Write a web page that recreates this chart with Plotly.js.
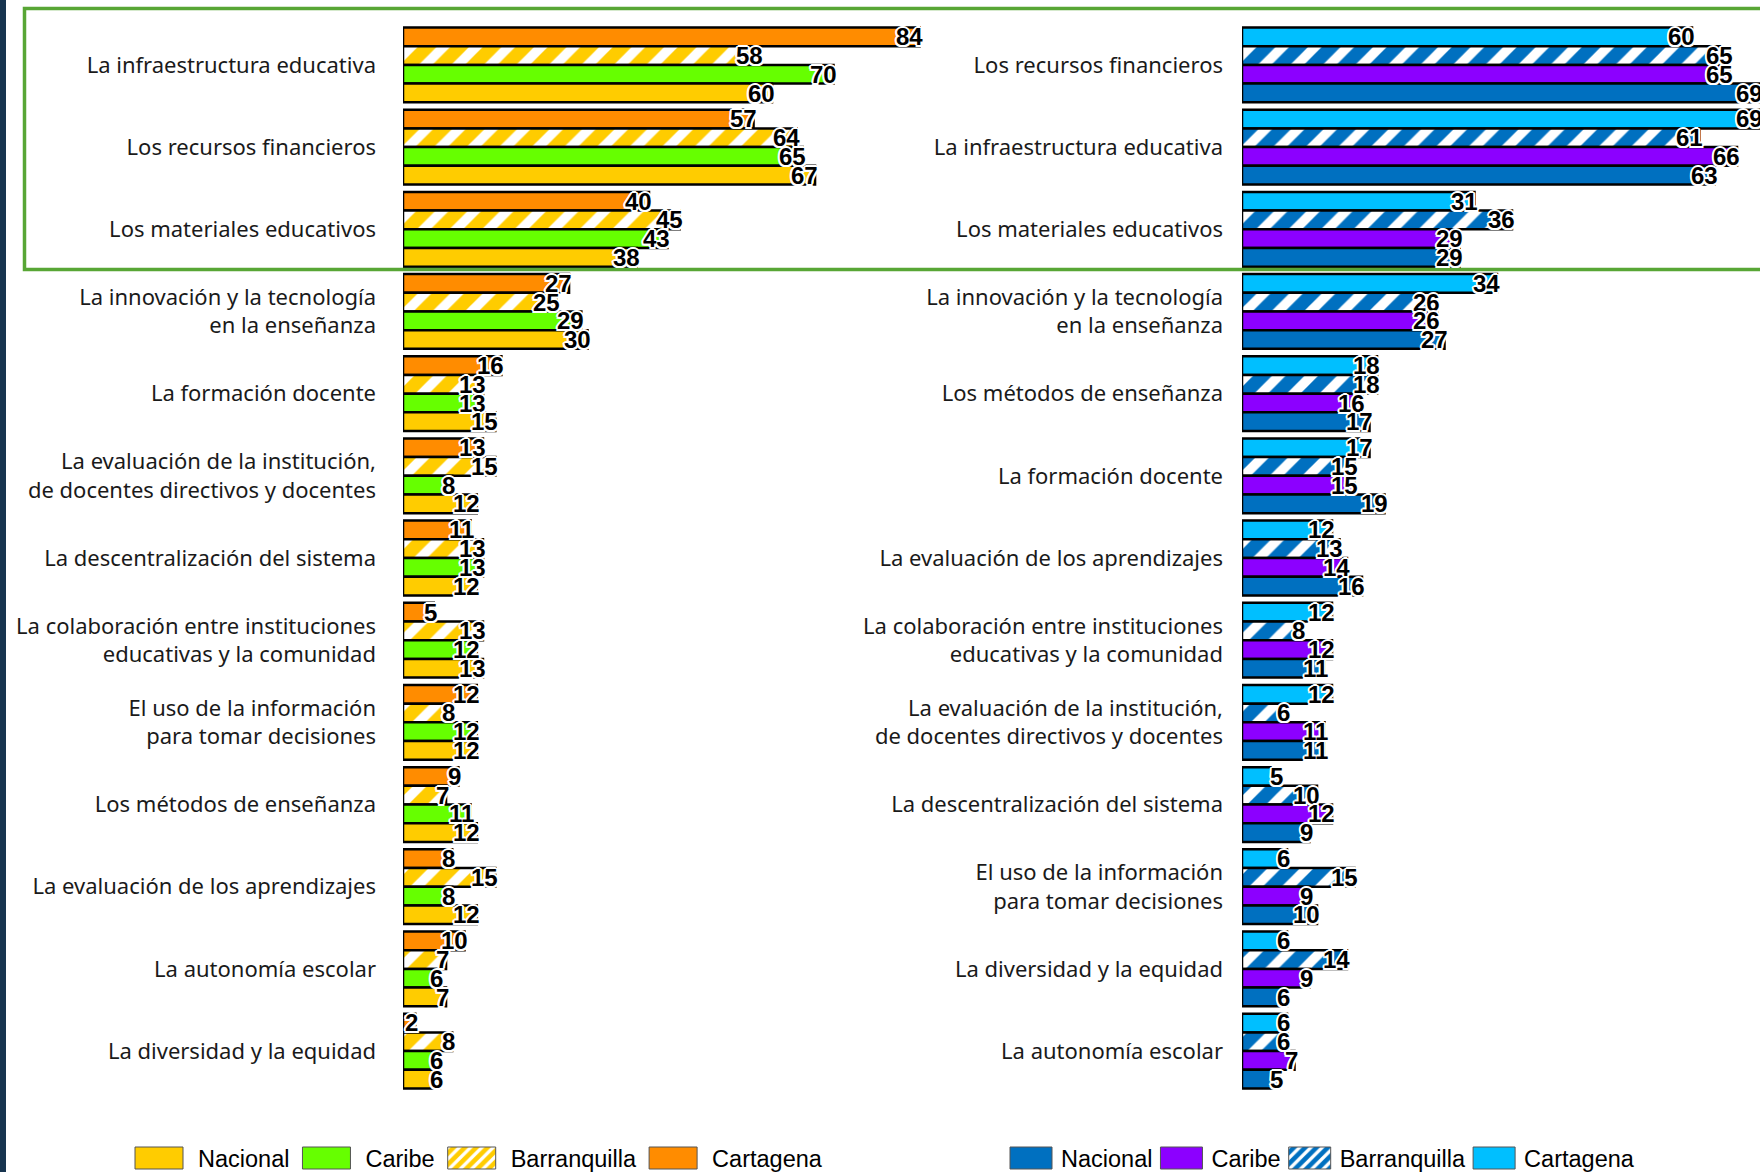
<!DOCTYPE html>
<html>
<head>
<meta charset="utf-8">
<script src="https://cdn.plot.ly/plotly-3.0.1.min.js"></script>
<style>
  html, body { margin: 0; padding: 0; background: #ffffff; }
  #chart { width: 1760px; height: 1172px; }
</style>
</head>
<body>
<div id="chart"></div>
<script>
// Categories, top to bottom, for each panel
const catsLeft = [
  'La infraestructura educativa',
  'Los recursos financieros',
  'Los materiales educativos',
  'La innovación y la tecnología<br>en la enseñanza',
  'La formación docente',
  'La evaluación de la institución,<br>de docentes directivos y docentes',
  'La descentralización del sistema',
  'La colaboración entre instituciones<br>educativas y la comunidad',
  'El uso de la información<br>para tomar decisiones',
  'Los métodos de enseñanza',
  'La evaluación de los aprendizajes',
  'La autonomía escolar',
  'La diversidad y la equidad'
];
const cartagenaLeft    = [84, 57, 40, 27, 16, 13, 11, 5, 12, 9, 8, 10, 2];
const barranquillaLeft = [58, 64, 45, 25, 13, 15, 13, 13, 8, 7, 15, 7, 8];
const caribeLeft       = [70, 65, 43, 29, 13, 8, 13, 12, 12, 11, 8, 6, 6];
const nacionalLeft     = [60, 67, 38, 30, 15, 12, 12, 13, 12, 12, 12, 7, 6];

const catsRight = [
  'Los recursos financieros',
  'La infraestructura educativa',
  'Los materiales educativos',
  'La innovación y la tecnología<br>en la enseñanza',
  'Los métodos de enseñanza',
  'La formación docente',
  'La evaluación de los aprendizajes',
  'La colaboración entre instituciones<br>educativas y la comunidad',
  'La evaluación de la institución,<br>de docentes directivos y docentes',
  'La descentralización del sistema',
  'El uso de la información<br>para tomar decisiones',
  'La diversidad y la equidad',
  'La autonomía escolar'
];
const cartagenaRight    = [60, 69, 31, 34, 18, 17, 12, 12, 12, 5, 6, 6, 6];
const barranquillaRight = [65, 61, 36, 26, 18, 15, 13, 8, 6, 10, 15, 14, 6];
const caribeRight       = [65, 66, 29, 26, 16, 15, 14, 12, 11, 12, 9, 9, 7];
const nacionalRight     = [69, 63, 29, 27, 17, 19, 16, 11, 11, 9, 10, 6, 5];

const W = 1760, H = 1172;
const plotTop = 22.3, plotBottom = 1093.7;
const bargap = 0.09;

const labelFont = {
  family: 'Liberation Sans, Arial, sans-serif',
  size: 24,
  weight: 'bold',
  color: '#000000',
  shadow: '2px 0 0 #fff, -2px 0 0 #fff, 0 2px 0 #fff, 0 -2px 0 #fff, 1.5px 1.5px 0 #fff, -1.5px -1.5px 0 #fff, 1.5px -1.5px 0 #fff, -1.5px 1.5px 0 #fff'
};

function barTrace(name, values, cats, color, hatched, xa, ya, legend, rank) {
  return {
    type: 'bar',
    orientation: 'h',
    name: name,
    x: values,
    y: cats,
    xaxis: xa,
    yaxis: ya,
    legend: legend,
    legendrank: rank,
    marker: {
      color: color,
      line: { color: '#000000', width: 2.5 },
      pattern: hatched
        ? { shape: '/', fgcolor: '#ffffff', bgcolor: color, size: 23, solidity: 0.42, fillmode: 'replace' }
        : { shape: '' }
    },
    textposition: 'none',
    cliponaxis: false,
    hoverinfo: 'skip'
  };
}

// Trace order sets the top-to-bottom order inside each group (y axis reversed)
const data = [
  barTrace('Cartagena',    cartagenaLeft,    catsLeft, '#FF8C00', false, 'x', 'y', 'legend', 4),
  barTrace('Barranquilla', barranquillaLeft, catsLeft, '#FFCC00', true,  'x', 'y', 'legend', 3),
  barTrace('Caribe',       caribeLeft,       catsLeft, '#66FF00', false, 'x', 'y', 'legend', 2),
  barTrace('Nacional',     nacionalLeft,     catsLeft, '#FFCC00', false, 'x', 'y', 'legend', 1),

  barTrace('Cartagena',    cartagenaRight,    catsRight, '#00BFFF', false, 'x2', 'y2', 'legend2', 4),
  barTrace('Barranquilla', barranquillaRight, catsRight, '#0070C0', true,  'x2', 'y2', 'legend2', 3),
  barTrace('Caribe',       caribeRight,       catsRight, '#8C00FF', false, 'x2', 'y2', 'legend2', 2),
  barTrace('Nacional',     nacionalRight,     catsRight, '#0070C0', false, 'x2', 'y2', 'legend2', 1)
];

// Value labels: right edge just past each bar end, one row per bar in the group
const barPx = (plotBottom - plotTop) / catsLeft.length * (1 - bargap) / 4;
const rowShift = [1.5, 0.5, -0.5, -1.5];
function valueLabels(seriesList, cats, xa, ya) {
  const out = [];
  seriesList.forEach(function (vals, s) {
    vals.forEach(function (v, i) {
      out.push({
        xref: xa, yref: ya, x: v, y: cats[i],
        text: String(v), showarrow: false,
        xanchor: 'right', yanchor: 'middle',
        xshift: 4, yshift: rowShift[s] * barPx,
        borderpad: 0,
        font: labelFont
      });
    });
  });
  return out;
}
const annotations = []
  .concat(valueLabels([cartagenaLeft, barranquillaLeft, caribeLeft, nacionalLeft], catsLeft, 'x', 'y'))
  .concat(valueLabels([cartagenaRight, barranquillaRight, caribeRight, nacionalRight], catsRight, 'x2', 'y2'));

const tickFont = { family: 'Noto Sans, Open Sans, sans-serif', size: 22, color: '#1a1a1a' };
const yDomain = [1 - plotBottom / H, 1 - plotTop / H];

const hiddenX = { showgrid: false, zeroline: false, showline: false, showticklabels: false, ticks: '', fixedrange: true };

const legendBase = {
  orientation: 'h',
  xanchor: 'left',
  yanchor: 'middle',
  y: 1 - 1160 / H,
  bgcolor: 'rgba(0,0,0,0)',
  borderwidth: 0,
  itemwidth: 52,
  traceorder: 'normal',
  font: { family: 'Liberation Sans, Arial, sans-serif', size: 23.5, color: '#000000' },
  itemclick: false,
  itemdoubleclick: false
};

const layout = {
  width: W,
  height: H,
  margin: { l: 0, r: 0, t: 0, b: 0, autoexpand: false },
  paper_bgcolor: '#ffffff',
  plot_bgcolor: '#ffffff',
  barmode: 'group',
  bargap: bargap,
  bargroupgap: 0,
  xaxis: Object.assign({}, hiddenX, {
    domain: [403 / W, 0.6],
    range: [0, (0.6 * W - 403) / 6.15],
    anchor: 'y'
  }),
  yaxis: {
    domain: yDomain,
    type: 'category',
    autorange: 'reversed',
    anchor: 'x',
    showgrid: false, zeroline: false, showline: false, ticks: '',
    ticklabelstandoff: 26,
    tickfont: tickFont,
    fixedrange: true
  },
  xaxis2: Object.assign({}, hiddenX, {
    domain: [1242 / W, 1],
    range: [0, 518 / 7.5],
    anchor: 'y2'
  }),
  yaxis2: {
    domain: yDomain,
    type: 'category',
    autorange: 'reversed',
    anchor: 'x2',
    showgrid: false, zeroline: false, showline: false, ticks: '',
    ticklabelstandoff: 18,
    tickfont: tickFont,
    fixedrange: true
  },
  legend: Object.assign({}, legendBase, { x: 128 / W }),
  legend2: Object.assign({}, legendBase, { x: 1002 / W }),
  annotations: annotations,
  shapes: [
    // dark strip on the left edge
    { type: 'rect', xref: 'paper', yref: 'paper', x0: 0, x1: 6 / W, y0: 0, y1: 1,
      fillcolor: '#17344F', line: { width: 0 }, layer: 'above' },
    // frame around the three leading factors
    { type: 'rect', xref: 'paper', yref: 'paper', x0: 24.5 / W, x1: 1.01, y0: 1 - 269.5 / H, y1: 1 - 8.5 / H,
      fillcolor: 'rgba(0,0,0,0)', line: { color: '#58A635', width: 3.5 }, layer: 'above' }
  ],
  showlegend: true
};

// Legend swatch geometry: box width, gap box->text, gap text->next box,
// left edge of the first box and vertical centre of the row (page pixels)
const legendStyles = [
  { boxW: 48, gap1: 15, gap2: 13, left: 135, midY: 1158 },
  { boxW: 42, gap1: 9,  gap2: 8,  left: 1010, midY: 1158 }
];

function restyleLegend(root, opts) {
  root.querySelectorAll('[clip-path]').forEach(function (el) { el.removeAttribute('clip-path'); });
  const info = [];
  root.querySelectorAll('g.traces').forEach(function (item) {
    const txt = item.querySelector('text');
    const sym = item.querySelector('.legendpoints path') || item.querySelector('path');
    if (!txt || !sym) return;
    const tx = parseFloat(txt.getAttribute('x')) || 62;
    const right = tx - opts.gap1, left = right - opts.boxW;
    item.querySelectorAll('.legendpoints path').forEach(function (p) {
      p.setAttribute('transform', '');
      p.setAttribute('d', 'M' + left + ',-11H' + right + 'V11H' + left + 'Z');
      p.style.strokeWidth = '1px';
      p.style.stroke = '#555555';
    });
    const tr = item.getAttribute('transform') || '';
    const m = /translate\(\s*([-\d.e]+)(?:[\s,]+([-\d.e]+))?\s*\)/.exec(tr);
    info.push({ item: item, sym: sym, left: left,
                x0: m ? parseFloat(m[1]) : 0, y0: m && m[2] ? parseFloat(m[2]) : 0,
                tw: txt.getComputedTextLength() });
  });
  if (!info.length) return false;
  const r = info[0].sym.getBoundingClientRect();
  const dx = opts.left - r.left;
  const dy = opts.midY - (r.top + r.height / 2);
  let cursor = info[0].x0 + info[0].left + dx;
  info.forEach(function (d) {
    d.item.setAttribute('transform', 'translate(' + (cursor - d.left) + ',' + (d.y0 + dy) + ')');
    cursor += opts.boxW + opts.gap1 + d.tw + opts.gap2;
  });
  return true;
}

function restyleAllLegends(gd) {
  const roots = [];
  gd.querySelectorAll('g.traces').forEach(function (item) {
    let g = item.parentNode;
    while (g && g !== gd && !(g.classList && (g.classList.contains('legend') || /^legend\d*$/.test(g.getAttribute('class') || '')))) {
      g = g.parentNode;
    }
    if (g && g !== gd && roots.indexOf(g) < 0) roots.push(g);
  });
  roots.sort(function (a, b) { return a.getBoundingClientRect().left - b.getBoundingClientRect().left; });
  roots.forEach(function (root, i) {
    if (legendStyles[i]) restyleLegend(root, legendStyles[i]);
  });
}

Plotly.newPlot('chart', data, layout, { staticPlot: true, displayModeBar: false }).then(function (gd) {
  restyleAllLegends(gd);
  setTimeout(function () { restyleAllLegends(gd); }, 150);
});
</script>
</body>
</html>
